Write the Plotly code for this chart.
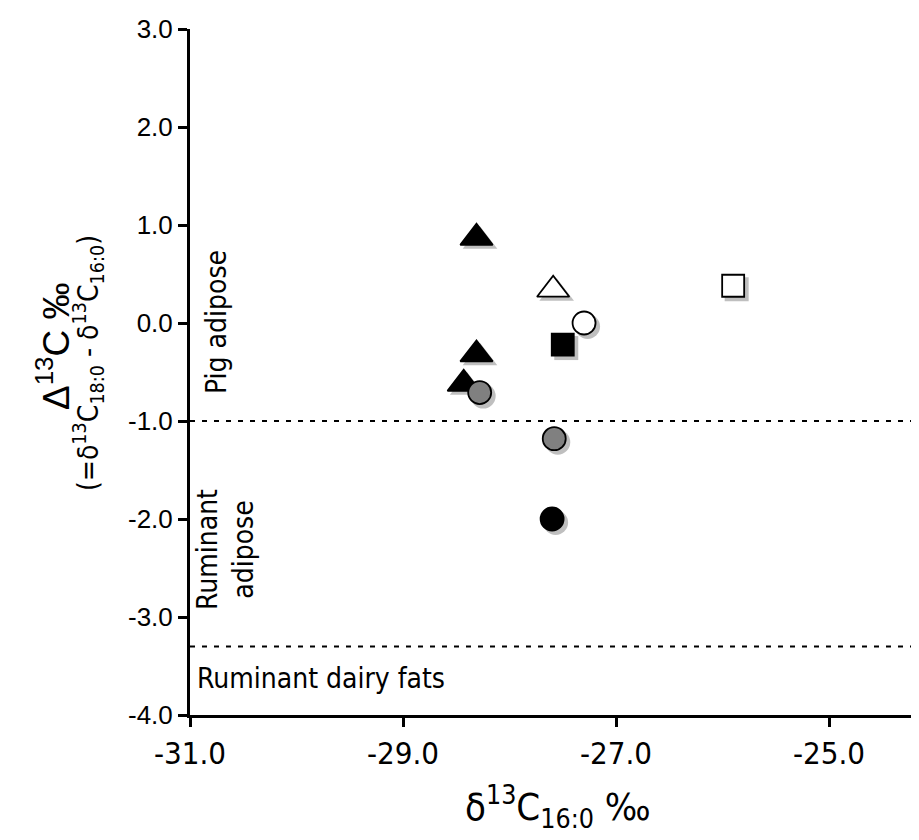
import plotly.graph_objects as go

# ---- data ----
black_tri_x = [-28.31, -28.31, -28.43]
black_tri_y = [0.87, -0.32, -0.62]
white_tri_x = [-27.59]
white_tri_y = [0.34]
white_sq_x = [-25.90]
white_sq_y = [0.38]
white_circ_x = [-27.30]
white_circ_y = [0.00]
black_sq_x = [-27.50]
black_sq_y = [-0.22]
grey_circ_x = [-28.28, -27.58]
grey_circ_y = [-0.71, -1.18]
black_circ_x = [-27.60]
black_circ_y = [-2.00]

x_tickvals = [-31, -29, -27, -25]
x_ticktext = ["-31.0", "-29.0", "-27.0", "-25.0"]
y_tickvals = [3, 2, 1, 0, -1, -2, -3, -4]
y_ticktext = ["3.0", "2.0", "1.0", "0.0", "-1.0", "-2.0", "-3.0", "-4.0"]

boundaries = [-1.0, -3.3]

XR = [-31, -24.08]
YR = [-4, 3]

NARROW = "Liberation Sans Narrow, Arial Narrow, DejaVu Sans Condensed, sans-serif"
REG = "Liberation Sans, Arial, sans-serif"

groups = [
    (black_tri_x, black_tri_y, "triangle-up", "black", 28),
    (white_tri_x, white_tri_y, "triangle-up", "white", 28),
    (white_sq_x, white_sq_y, "square", "white", 22),
    (white_circ_x, white_circ_y, "circle", "white", 23),
    (black_sq_x, black_sq_y, "square", "black", 22),
    (grey_circ_x, grey_circ_y, "circle", "#808080", 23),
    (black_circ_x, black_circ_y, "circle", "black", 23),
]

fig = go.Figure()

# shadows on base axes (shifted ranges -> offset by a few pixels)
for gx, gy, sym, col, sz in groups:
    fig.add_trace(go.Scatter(x=gx, y=gy, mode="markers", xaxis="x", yaxis="y",
                             marker=dict(symbol=sym, size=sz + 2, color="rgba(0,0,0,0.25)",
                                         line=dict(width=0)),
                             showlegend=False, hoverinfo="skip"))

# main markers on overlay axes
for gx, gy, sym, col, sz in groups:
    fig.add_trace(go.Scatter(x=gx, y=gy, mode="markers", xaxis="x2", yaxis="y2",
                             marker=dict(symbol=sym, size=sz, color=col,
                                         line=dict(width=1.8, color="black")),
                             showlegend=False))

dx = 3.5 / 106.5
dy = 3.5 / 98.0

for b in boundaries:
    fig.add_shape(type="line", xref="x2", yref="y2", x0=XR[0], x1=XR[1], y0=b, y1=b,
                  line=dict(color="black", width=2, dash="5px,7px"))

fig.update_layout(
    width=919, height=840,
    margin=dict(l=182, r=0, t=21, b=133),
    plot_bgcolor="white", paper_bgcolor="white",
    xaxis=dict(range=[XR[0] - dx, XR[1] - dx], visible=False, showgrid=False, zeroline=False),
    yaxis=dict(range=[YR[0] + dy, YR[1] + dy], visible=False, showgrid=False, zeroline=False),
    xaxis2=dict(range=XR, overlaying="x", anchor="y2", side="bottom",
                showgrid=False, zeroline=False, showline=True, linecolor="black", linewidth=3,
                ticks="outside", ticklen=9, tickwidth=2.5, tickcolor="black",
                tickvals=x_tickvals, ticktext=x_ticktext,
                tickfont=dict(family=NARROW, size=31, color="black")),
    yaxis2=dict(range=YR, overlaying="y", anchor="x2", side="left",
                showgrid=False, zeroline=False, showline=True, linecolor="black", linewidth=3,
                ticks="outside", ticklen=9, tickwidth=2.5, tickcolor="black",
                tickvals=y_tickvals, ticktext=y_ticktext,
                tickfont=dict(family=REG, size=26, color="black")),
    showlegend=False,
)

def px_x(px):
    return (px - 182) / 737.0

def px_y(py):
    return (707 - py) / 686.0

annots = [
    dict(text="Δ<sup>13</sup>C ‰", x=px_x(45), y=px_y(338), textangle=-90,
         font=dict(family=REG, size=37, color="black")),
    dict(text="(=δ<sup>13</sup>C<sub>18:0</sub> - δ<sup>13</sup>C<sub>16:0</sub>)", x=px_x(80), y=px_y(355),
         textangle=-90, font=dict(family=NARROW, size=28, color="black")),
    dict(text="δ<sup>13</sup>C<sub>16:0</sub> ‰", x=px_x(550), y=px_y(798),
         font=dict(family=NARROW, size=38, color="black")),
    dict(text="Pig adipose", x=px_x(208), y=px_y(314), textangle=-90,
         font=dict(family=NARROW, size=28, color="black")),
    dict(text="Ruminant<br>adipose", x=px_x(217), y=px_y(542), textangle=-90,
         font=dict(family=NARROW, size=28, color="black")),
    dict(text="Ruminant dairy fats", x=px_x(187), y=px_y(670), xanchor="left",
         font=dict(family=NARROW, size=28, color="black")),
]
for a in annots:
    a.setdefault("xanchor", "center")
    fig.add_annotation(xref="paper", yref="paper", showarrow=False, yanchor="middle", **a)

fig.write_html("out.html")
